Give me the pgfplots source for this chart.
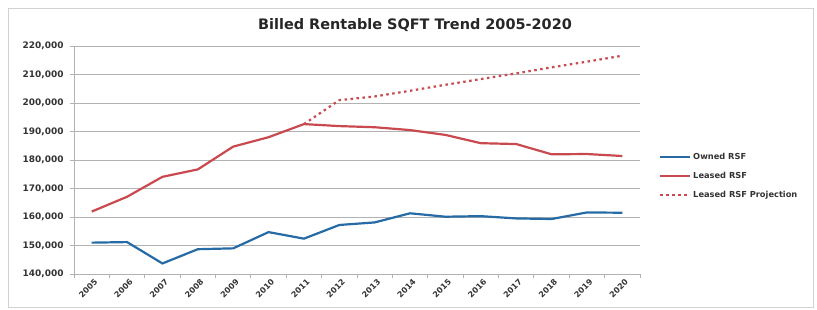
\documentclass[border=0pt]{standalone}
\usepackage{pgfplots}
\pgfplotsset{compat=1.18}
\usepackage{fontspec}
\setmainfont{DejaVu Sans}
\definecolor{ownedblue}{RGB}{38,107,165}
\definecolor{leasedred}{RGB}{200,74,78}
\definecolor{gridgray}{RGB}{178,178,178}
\begin{document}
\begin{tikzpicture}
\useasboundingbox (0,0) rectangle (817bp,310bp);
\draw[gray!35, line width=0.6bp] (8bp,3bp) rectangle (813bp,302bp);
\node[font=\bfseries\fontsize{14.5}{16}\selectfont, text=black!85] at (415bp,285bp) {Billed Rentable SQFT Trend 2005-2020};
\begin{axis}[
  at={(74bp,36bp)}, anchor=south west, scale only axis,
  width=566bp, height=228bp,
  xmin=-0.5, xmax=15.5, ymin=140000, ymax=220000,
  ytick={140000,150000,...,220000},
  scaled y ticks=false,
  yticklabel={\pgfmathprintnumber[fixed,precision=0,1000 sep={,}]{\tick}},
  xtick={0,...,15},
  xticklabels={2005,2006,2007,2008,2009,2010,2011,2012,2013,2014,2015,2016,2017,2018,2019,2020},
  minor xtick={-0.5,0.5,...,15.5},
  major x tick style={draw=none},
  minor tick length=4bp, major tick length=4bp,
  tick align=outside,
  tick style={gridgray, line width=0.8bp},
  axis x line*=bottom, axis y line*=left,
  axis line style={gridgray, line width=1bp, -},
  ymajorgrids, grid style={gridgray, line width=1bp},
  /pgf/number format/assume math mode=true,
  y tick label style={font=\bfseries\fontsize{9}{10}\selectfont, text=black!80, xshift=-3bp},
  x tick label style={rotate=45, anchor=north east, font=\bfseries\fontsize{8}{9}\selectfont, text=black!80, xshift=3bp, inner sep=1.5bp},
  legend style={at={(rel axis cs:1.028,0.43)}, anchor=west, draw=none, fill=none,
    font=\bfseries\fontsize{8.3}{9}\selectfont, text=black!80, row sep=7bp},
  legend cell align=left,
  legend image code/.code={\draw[#1] (0bp,0bp) -- (30bp,0bp);},
]
\addplot[ownedblue, line width=2.2bp] coordinates {
(0,151000) (1,151200) (2,143700) (3,148700) (4,149000) (5,154700) (6,152400) (7,157200)
(8,158100) (9,161300) (10,160100) (11,160300) (12,159500) (13,159300) (14,161600) (15,161500)};
\addlegendentry{Owned RSF}
\addplot[leasedred, line width=2.2bp] coordinates {
(0,161900) (1,167100) (2,174100) (3,176700) (4,184700) (5,188000) (6,192600) (7,191900)
(8,191500) (9,190500) (10,188800) (11,185900) (12,185600) (13,182000) (14,182100) (15,181400)};
\addlegendentry{Leased RSF}
\addplot[leasedred, line width=2.2bp, dash pattern=on 2.5bp off 3.5bp] coordinates {
(6,192600) (7,201000) (8,202300) (9,204300) (10,206400) (11,208400) (12,210400) (13,212500) (14,214500) (15,216600)};
\addlegendentry{Leased RSF Projection}
\end{axis}
\end{tikzpicture}
\end{document}
